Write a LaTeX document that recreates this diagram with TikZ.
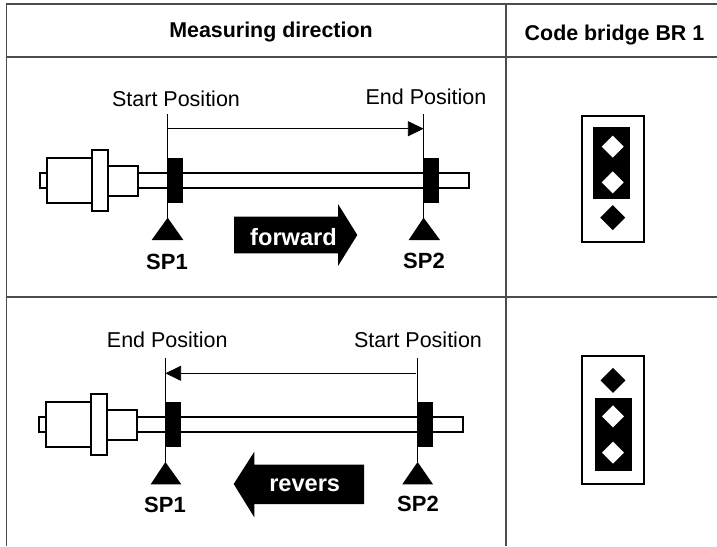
\documentclass[tikz,border=0pt]{standalone}
\usepackage{fontspec}
\setmainfont{Liberation Sans}
\usetikzlibrary{arrows.meta}
\tikzset{
 gridline/.style={draw=black!70,line width=1.3pt},
 heavy/.style={draw=black,line width=2.1pt},
 fine/.style={draw=black,line width=0.8pt},
 lbl/.style={font=\fontsize{21.5}{24}\selectfont,inner sep=0pt,anchor=base},
 hdr/.style={font=\fontsize{21.4}{24}\selectfont\bfseries,inner sep=0pt,anchor=base},
 splabel/.style={font=\fontsize{22}{26}\selectfont\bfseries,inner sep=0pt,anchor=base},
 dirlabel/.style={font=\fontsize{23.6}{26}\selectfont\bfseries,inner sep=0pt,anchor=base,text=white},
 tip/.style={-{Triangle[length=15.7pt,width=15pt]}},
}
\newcommand{\sensorbody}[3]{% dx, dy, rod end
\begin{scope}[shift={(#1,#2)}]
 \draw[heavy,fill=white] (137.7,172.7) rectangle (#3,188);
 \draw[heavy,fill=white] (39.7,172.7) rectangle (47,188);
 \draw[heavy,fill=white] (46.7,158) rectangle (92,203);
 \draw[heavy,fill=white] (92,150) rectangle (107.7,210.7);
 \draw[heavy,fill=white] (107.7,165.7) rectangle (137.7,195.7);
\end{scope}}
\newcommand{\dm}[4]{\fill[#4] (#1,#2-#3) -- (#1+#3,#2) -- (#1,#2+#3) -- (#1-#3,#2) -- cycle;}
\begin{document}
\begin{tikzpicture}[x=1pt,y=-1pt]
\useasboundingbox (0,0) rectangle (717,546);
\fill[white] (0,0) rectangle (717,546);
% table
\draw[gridline] (6.8,4) -- (717,4);
\draw[gridline] (6.8,57) -- (717,57);
\draw[gridline] (6.8,297) -- (717,297);
\draw[gridline] (6.8,3.4) -- (6.8,546);
\draw[gridline] (506,3.4) -- (506,546);
\node[hdr] (h1) at (271,37) {Measuring direction};
\node[hdr] (h2) at (614.5,40) {Code bridge BR 1};
% top row
\sensorbody{0}{0}{469}
\fill (167.7,158) rectangle (183,203);
\fill (423.3,158) rectangle (439,203);
\coordinate (a1) at (167.7,114);
\coordinate (a2) at (167.7,217.7);
\coordinate (b1) at (423.6,114);
\coordinate (b2) at (423.6,217.7);
\coordinate (as) at (167.7,128.7);
\coordinate (be) at (423.6,128.7);
\draw[fine] (a1) -- (a2);
\draw[fine] (b1) -- (b2);
\draw[fine,tip] (as) -- (be);
\fill (a2) -- (183.3,240) -- (151.7,240) -- cycle;
\fill (b2) -- (440,240) -- (408.7,240) -- cycle;
\node[lbl] (st1) at (176,106) {Start Position};
\node[lbl] (en1) at (426,104) {End Position};
\node[splabel] (sp1a) at (167,269) {SP1};
\node[splabel] (sp2a) at (424,268) {SP2};
\fill (234,216.7) -- (338,216.7) -- (338,204) -- (357.3,235) -- (338,266) -- (338,253.3) -- (234,253.3) -- cycle;
\node[dirlabel] (fw) at (293.5,245) {forward};
% top jumper
\draw[heavy] (582,115.7) rectangle (643.7,241.7);
\fill (593,127) rectangle (630,199.3);
\dm{612.7}{146.7}{11}{white}
\dm{612.7}{182.3}{11}{white}
\dm{612.7}{217.7}{12.5}{black}
% bottom row
\sensorbody{-0.7}{244.3}{463.4}
\fill (165.3,402) rectangle (180.7,447.3);
\fill (417.3,402) rectangle (433,447.3);
\coordinate (c1) at (165.4,358.3);
\coordinate (c2) at (165.4,462);
\coordinate (d1) at (417.6,358.3);
\coordinate (d2) at (417.6,462);
\coordinate (ce) at (165.4,373.3);
\coordinate (ds) at (416,373.3);
\draw[fine] (c1) -- (c2);
\draw[fine] (d1) -- (d2);
\draw[fine,tip] (ds) -- (ce);
\fill (c2) -- (181.3,484.3) -- (150.7,484.3) -- cycle;
\fill (d2) -- (433,484.3) -- (402.3,484.3) -- cycle;
\node[lbl] (en2) at (167.3,347.3) {End Position};
\node[lbl] (st2) at (418,347.3) {Start Position};
\node[splabel] (sp1b) at (165,512.7) {SP1};
\node[splabel] (sp2b) at (418,511.7) {SP2};
\fill (233.7,484) -- (254.3,451.7) -- (254.3,464.7) -- (364,464.7) -- (364,504) -- (254.3,504) -- (254.3,517.3) -- cycle;
\node[dirlabel] (rv) at (304.7,491.7) {revers};
% bottom jumper
\draw[heavy] (582,355.7) rectangle (644,484);
\fill (594.7,397.7) rectangle (631.7,471);
\dm{613}{380.3}{12.5}{black}
\dm{613}{416.3}{11}{white}
\dm{613}{452.7}{11}{white}
\end{tikzpicture}
\end{document}
